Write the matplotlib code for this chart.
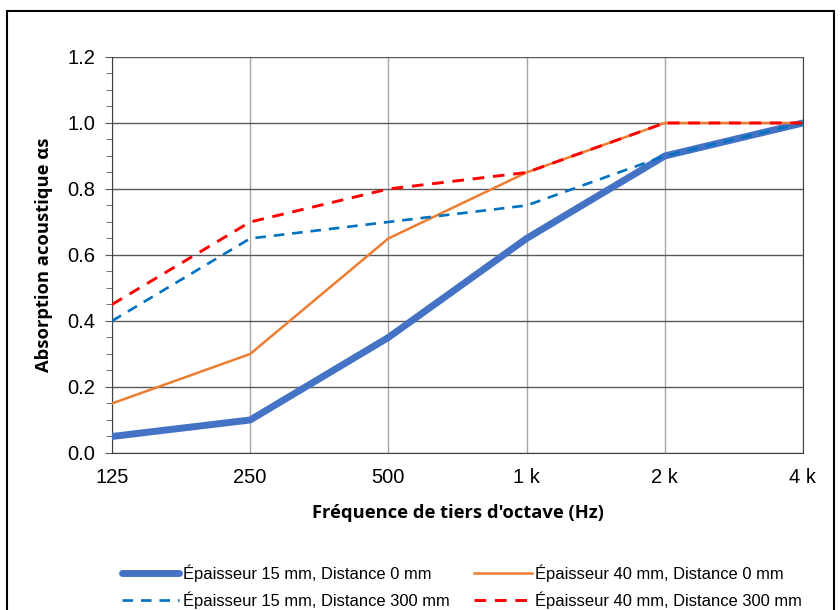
import matplotlib.pyplot as plt
from matplotlib.patches import Rectangle
from matplotlib.ticker import MultipleLocator, FormatStrFormatter

freqs = ["125", "250", "500", "1 k", "2 k", "4 k"]
ep15_d0 = [0.05, 0.10, 0.35, 0.65, 0.90, 1.00]
ep40_d0 = [0.15, 0.30, 0.65, 0.85, 1.00, 1.00]
ep15_d300 = [0.40, 0.65, 0.70, 0.75, 0.90, 1.00]
ep40_d300 = [0.45, 0.70, 0.80, 0.85, 1.00, 1.00]

labels = ["Épaisseur 15 mm, Distance 0 mm",
          "Épaisseur 40 mm, Distance 0 mm",
          "Épaisseur 15 mm, Distance 300 mm",
          "Épaisseur 40 mm, Distance 300 mm"]

plt.rcParams["font.family"] = ["Liberation Sans", "DejaVu Sans"]

fig = plt.figure(figsize=(8.4, 6.1), dpi=100)
ax = fig.add_axes([0.1333, 0.2574, 0.8226, 0.6492])

x = list(range(len(freqs)))
l1, = ax.plot(x, ep15_d0, color="#4472C4", lw=5, solid_capstyle="round", zorder=3)
l2, = ax.plot(x, ep40_d0, color="#ED7D31", lw=1.8, zorder=4)
l3, = ax.plot(x, ep15_d300, color="#0070C0", lw=1.9, linestyle=(0, (4, 3)), zorder=5)
l4, = ax.plot(x, ep40_d300, color="#FF0000", lw=2.1, linestyle=(0, (4, 3)), zorder=6)

ax.set_xlim(0, 5)
ax.set_ylim(0, 1.2)
ax.set_xticks(x)
ax.set_xticklabels(freqs)
ax.yaxis.set_major_locator(MultipleLocator(0.2))
ax.yaxis.set_minor_locator(MultipleLocator(0.05))
ax.yaxis.set_major_formatter(FormatStrFormatter("%.1f"))
ax.tick_params(axis="both", labelsize=14.5)
ax.tick_params(axis="x", length=0, pad=11)
ax.tick_params(axis="y", which="major", length=5, pad=7, color="#595959")
ax.tick_params(axis="y", which="minor", length=4, color="#595959")

ax.grid(axis="y", color="#595959", lw=1)
ax.grid(axis="x", color="#A6A6A6", lw=1)
ax.set_axisbelow(True)
for side in ["left", "bottom", "right"]:
    ax.spines[side].set_color("#404040")
ax.spines["top"].set_visible(False)

ax.set_xlabel("Fréquence de tiers d'octave (Hz)", family=["Open Sans", "DejaVu Sans"],
              fontweight="bold", fontsize=13.2, labelpad=12)
ax.set_ylabel("Absorption acoustique αs", family=["Open Sans", "DejaVu Sans"],
              fontweight="bold", fontsize=13.2, labelpad=10)

fig.legend([l1, l3, l2, l4], [labels[0], labels[2], labels[1], labels[3]],
           ncol=2, loc="center", bbox_to_anchor=(0.55, 0.038), frameon=False,
           fontsize=11.9, handlelength=3.5, handletextpad=0.2, columnspacing=1.5,
           labelspacing=0.6)

fig.patches.append(Rectangle((7 / 840, -0.02), 827 / 840, 1 - 11 / 610 + 0.02,
                             transform=fig.transFigure, fill=False,
                             edgecolor="black", lw=1.5))

fig.savefig("out.png", dpi=100)
